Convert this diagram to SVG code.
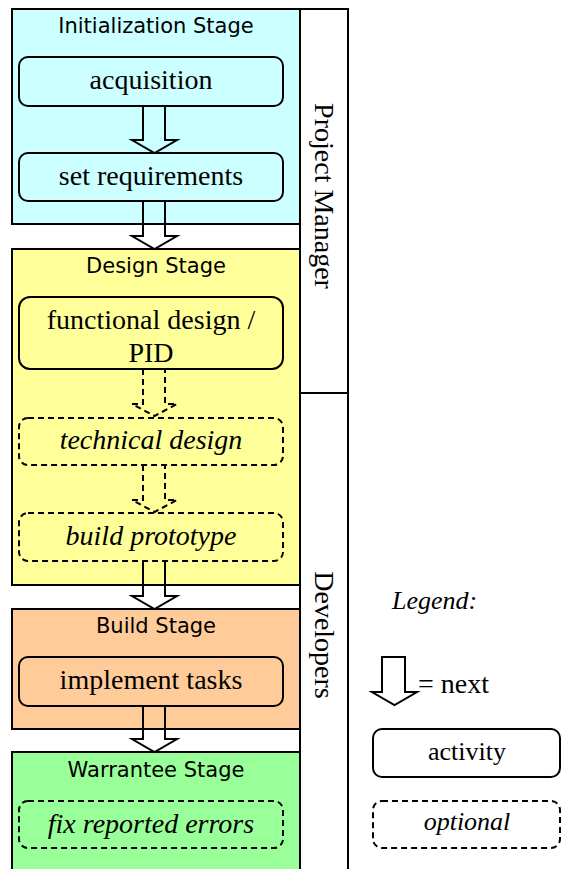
<svg xmlns="http://www.w3.org/2000/svg" width="561" height="869" viewBox="0 0 561 869">
<style>
.stage{stroke:#000;stroke-width:2}
.act{stroke:#000;stroke-width:2}
.opt{stroke:#000;stroke-width:2;stroke-dasharray:6 4}
.title{font-family:"DejaVu Sans",Verdana,sans-serif;font-size:21px;text-anchor:middle;fill:#000}
.lbl{font-family:"Liberation Serif","Times New Roman",serif;font-size:28px;text-anchor:middle;fill:#000}
.it{font-style:italic}
.arr{fill:none;stroke:#000;stroke-width:2;stroke-linejoin:miter}
.darr{fill:none;stroke:#000;stroke-width:2;stroke-dasharray:6 4}
</style>
<rect width="561" height="869" fill="#fff"/>
<g id="lanes">
<rect x="300" y="9" width="48" height="870" fill="#fff" stroke="#000" stroke-width="2"/>
<line x1="300" y1="393" x2="348" y2="393" stroke="#000" stroke-width="2"/>
<text class="lbl" transform="translate(315,196) rotate(90)">Project Manager</text>
<text class="lbl" transform="translate(315,635) rotate(90)">Developers</text>
</g>
<g id="stage-init">
<rect class="stage" x="12" y="9" width="288" height="215" fill="#ccffff"/>
<text class="title" x="156" y="33">Initialization Stage</text>
</g>
<g id="stage-design">
<rect class="stage" x="12" y="249" width="288" height="336" fill="#ffff99"/>
<text class="title" x="156" y="273">Design Stage</text>
</g>
<g id="stage-build">
<rect class="stage" x="12" y="609" width="288" height="120" fill="#ffcc99"/>
<text class="title" x="156" y="633">Build Stage</text>
</g>
<g id="stage-warrantee">
<rect class="stage" x="12" y="752" width="288" height="130" fill="#99ff99"/>
<text class="title" x="156" y="777">Warrantee Stage</text>
</g>
<g id="acquisition">
<rect class="act" x="19" y="57" width="264" height="49" rx="9" fill="#ccffff"/>
<text class="lbl" x="151" y="89">acquisition</text>
</g>
<g id="set-requirements">
<rect class="act" x="19" y="153" width="264" height="48" rx="9" fill="#ccffff"/>
<text class="lbl" x="151" y="185">set requirements</text>
</g>
<g id="functional-design">
<rect class="act" x="19" y="297" width="264" height="72" rx="11" fill="#ffff99"/>
<text class="lbl" x="151" y="329">functional design /</text>
<text class="lbl" x="151" y="362">PID</text>
</g>
<g id="technical-design">
<rect class="opt" x="19" y="418" width="264" height="47" rx="9" fill="#ffff99"/>
<text class="lbl it" x="151" y="449">technical design</text>
</g>
<g id="build-prototype">
<rect class="opt" x="19" y="513" width="264" height="48" rx="9" fill="#ffff99"/>
<text class="lbl it" x="151" y="545">build prototype</text>
</g>
<g id="implement-tasks">
<rect class="act" x="19" y="657" width="264" height="49" rx="9" fill="#ffcc99"/>
<text class="lbl" x="151" y="689">implement tasks</text>
</g>
<g id="fix-errors">
<rect class="opt" x="19" y="801" width="264" height="47" rx="9" fill="#99ff99"/>
<text class="lbl it" x="151" y="833">fix reported errors</text>
</g>
<g id="connectors">
<path class="arr" d="M143,106 V140 H132 L154.5,153 L177,140 H165 V106"/>
<path class="arr" d="M143,201 V236 H132 L154.5,249 L177,236 H165 V201"/>
<path class="darr" d="M143,369 V404 H132 L154.5,416 L177,404 H165 V369"/>
<path class="darr" d="M143,465 V500 H132 L154.5,512 L177,500 H165 V465"/>
<path class="arr" d="M143,561 V596 H132 L154.5,609 L177,596 H165 V561"/>
<path class="arr" d="M143,706 V739 H132 L154.5,752 L177,739 H165 V706"/>
</g>
<g id="legend">
<text class="lbl it" x="392" y="609" style="text-anchor:start;font-size:26px">Legend:</text>
<path class="arr" d="M382,692 V657 H405 V692 H417 L394.5,705 L372,692 Z"/>
<text class="lbl" x="418" y="693" style="text-anchor:start">= next</text>
<rect class="act" x="373" y="729" width="187" height="48" rx="9" fill="#fff"/>
<text class="lbl" x="467" y="760" style="font-size:26px">activity</text>
<rect class="opt" x="373" y="801" width="187" height="47" rx="9" fill="#fff"/>
<text class="lbl it" x="467" y="830" style="font-size:26px">optional</text>
</g>
</svg>
